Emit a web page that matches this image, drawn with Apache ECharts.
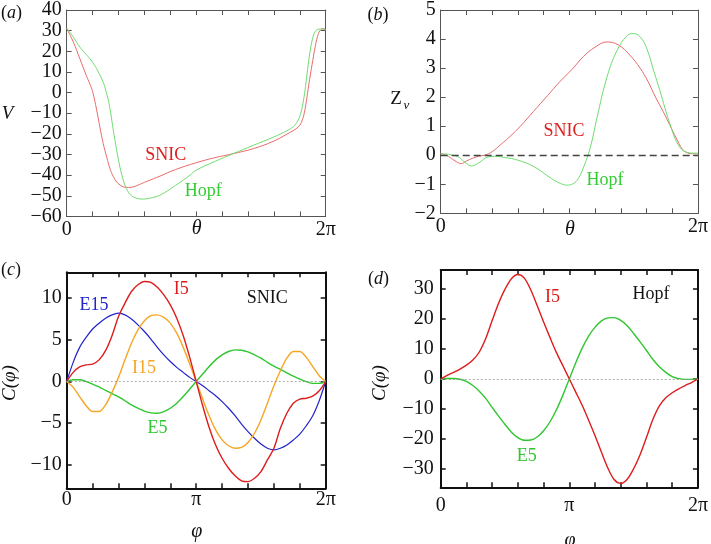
<!DOCTYPE html>
<html>
<head>
<meta charset="utf-8">
<script src="https://cdn.jsdelivr.net/npm/echarts@6/dist/echarts.min.js"></script>
<style>html,body{margin:0;padding:0;background:#fff}#c{width:711px;height:544px}</style>
</head>
<body>
<div id="c"></div>
<script>
// ---------- data (x = phase / 2π) ----------
const aSnicX = [0, 0.026, 0.051, 0.075, 0.09, 0.1, 0.115, 0.128, 0.141, 0.155, 0.167, 0.18, 0.193, 0.206, 0.219, 0.232, 0.244, 0.26, 0.28, 0.31, 0.36, 0.42, 0.5, 0.57, 0.643, 0.72, 0.8, 0.862, 0.885, 0.9, 0.91, 0.918, 0.925, 0.932, 0.94, 0.95, 0.959, 0.968, 0.978, 0.99, 1];
const aSnicV = [31, 24.4, 16.3, 8.5, 4, 0.5, -8, -16.7, -24.7, -31.5, -36.8, -40.7, -43.3, -44.8, -45.7, -45.9, -46, -45.6, -44.6, -43, -40.5, -37.3, -34, -31.6, -29.6, -27.2, -23.5, -19.3, -17.6, -15.8, -13.2, -9.5, -4.5, 1.5, 8, 15.5, 21.9, 27, 30, 31, 30.5];
const aHopfX = [0, 0.026, 0.051, 0.075, 0.1, 0.12, 0.141, 0.151, 0.161, 0.17, 0.18, 0.19, 0.2, 0.212, 0.225, 0.238, 0.25, 0.27, 0.29, 0.32, 0.36, 0.42, 0.476, 0.5, 0.57, 0.643, 0.72, 0.8, 0.85, 0.875, 0.893, 0.905, 0.914, 0.922, 0.93, 0.939, 0.948, 0.958, 0.97, 0.985, 1];
const aHopfV = [31.3, 26.8, 22, 18.5, 14.7, 10.5, 5, 1, -3.8, -10, -18.3, -25.8, -32.8, -39.5, -44.9, -48.2, -50, -51.2, -51.6, -51.2, -49.7, -45, -40, -37.6, -33.5, -29.6, -25.6, -21.5, -18.5, -16.5, -13.5, -9.5, -4, 3, 11, 19.5, 25.5, 29.3, 30.6, 30.8, 30.3];

const bSnicX = [0, 0.03, 0.06, 0.08, 0.1, 0.125, 0.15, 0.171, 0.2, 0.235, 0.27, 0.31, 0.36, 0.415, 0.465, 0.51, 0.555, 0.6, 0.646, 0.69, 0.735, 0.775, 0.805, 0.835, 0.865, 0.89, 0.915, 0.94, 0.96, 0.98, 1];
const bSnicZ = [0.06, -0.04, -0.22, -0.29, -0.2, -0.1, -0.03, 0, 0.12, 0.38, 0.65, 1.0, 1.5, 2.05, 2.55, 2.95, 3.4, 3.72, 3.9, 3.8, 3.45, 3.0, 2.55, 2.0, 1.5, 1.05, 0.6, 0.2, 0.08, 0.05, 0.05];
const bHopfX = [0, 0.03, 0.068, 0.095, 0.12, 0.15, 0.184, 0.21, 0.25, 0.3, 0.364, 0.43, 0.465, 0.49, 0.515, 0.535, 0.556, 0.582, 0.608, 0.646, 0.685, 0.724, 0.749, 0.775, 0.8, 0.83, 0.852, 0.891, 0.929, 0.968, 1];
const bHopfZ = [0.05, 0.03, -0.06, -0.25, -0.37, -0.25, -0.06, -0.04, -0.08, -0.17, -0.4, -0.8, -0.97, -1.03, -0.98, -0.8, -0.4, 0.28, 1.31, 2.68, 3.6, 4.11, 4.19, 4.08, 3.7, 2.85, 2.23, 1.08, 0.28, 0.08, 0.07];

const cdX = [0, 0.025, 0.05, 0.075, 0.1, 0.125, 0.15, 0.175, 0.2, 0.225, 0.25, 0.275, 0.3, 0.325, 0.35, 0.375, 0.4, 0.425, 0.45, 0.475, 0.5,
             0.525, 0.55, 0.575, 0.6, 0.625, 0.65, 0.675, 0.7, 0.725, 0.75, 0.775, 0.8, 0.825, 0.85, 0.875, 0.9, 0.925, 0.95, 0.975, 1];
const cI5  = [0, 1.1, 1.75, 2.0, 2.1, 2.6, 3.7, 5.5, 7.8, 9.4, 10.8, 11.6, 12.0, 11.9, 11.3, 10.4, 9.2, 7.6, 5.5, 2.9, 0,
              -2.9, -5.5, -7.6, -9.2, -10.4, -11.3, -11.9, -12.0, -11.6, -10.8, -9.4, -8.0, -5.6, -3.8, -2.6, -2.1, -2.0, -1.75, -1.1, 0];
const cE15 = [0, 2.3, 4.1, 5.3, 6.3, 7.0, 7.6, 8.0, 8.2, 8.0, 7.5, 6.8, 6.0, 5.1, 4.1, 3.2, 2.4, 1.7, 1.1, 0.5, 0,
              -0.5, -1.1, -1.7, -2.4, -3.2, -4.1, -5.1, -6.0, -6.8, -7.5, -8.0, -8.2, -8.0, -7.6, -7.0, -6.3, -5.3, -4.1, -2.3, 0];
const cI15 = [0, -0.7, -1.8, -2.9, -3.6, -3.6, -2.8, -1.3, 0.5, 2.6, 4.6, 6.2, 7.3, 7.9, 8.0, 7.7, 7.0, 5.8, 4.1, 2.1, 0,
              -2.1, -4.1, -5.8, -7.0, -7.7, -8.0, -7.9, -7.3, -6.2, -4.6, -2.6, -0.5, 1.3, 2.8, 3.6, 3.6, 2.9, 1.8, 0.7, 0];
const cE5  = [0, 0.22, 0.22, 0.0, -0.3, -0.65, -1.05, -1.45, -1.85, -2.3, -2.8, -3.2, -3.55, -3.75, -3.8, -3.6, -3.2, -2.6, -1.8, -0.9, 0,
              0.9, 1.8, 2.6, 3.2, 3.6, 3.8, 3.75, 3.55, 3.2, 2.8, 2.3, 1.85, 1.45, 1.05, 0.65, 0.3, 0.0, -0.22, -0.22, 0];
const dI5  = [0, 1.2, 2.2, 3.3, 4.6, 6.3, 9.0, 13.5, 19.5, 25.3, 30.0, 33.5, 34.9, 33.7, 29.8, 24.5, 19.0, 13.8, 8.8, 4.4, 0,
              -4.4, -8.8, -13.8, -19.0, -24.5, -29.8, -33.7, -34.9, -33.5, -30.0, -25.3, -19.5, -13.5, -9.0, -6.3, -4.6, -3.3, -2.2, -1.2, 0];
const dE5  = [0, 0.15, 0.15, -0.1, -0.8, -2.2, -4.1, -6.5, -9.5, -12.4, -15.2, -17.8, -19.6, -20.5, -20.4, -19.4, -17.3, -14.3, -10.3, -5.4, 0,
              5.4, 10.3, 14.3, 17.3, 19.4, 20.4, 20.5, 19.6, 17.8, 15.2, 12.4, 9.5, 6.5, 4.1, 2.2, 0.8, 0.1, -0.15, -0.15, 0];

const xTickLabelsAB = ['0', '', '', '', '', '', '', '', '', '', '2π'];
const xTickLabelsCD = ['0', '', '', '', '', 'π', '', '', '', '', '2π'];
const yTicksC = [-10, -5, 0, 5, 10];
const yTicksD = [-30, -20, -10, 0, 10, 20, 30];

// ---------- helpers ----------
const FONT = '"Liberation Serif", "DejaVu Serif", serif';
const TICK_FS = 20;
const zip = (xs, ys) => xs.map((x, i) => [x, ys[i]]);
const minus = v => String(v).replace('-', '\u2212');

const thin = { color: '#555', width: 1 };
const thick = { color: '#111', width: 2 };

function xAxes(gi, labels, st, margin) {
  const base = {
    gridIndex: gi, type: 'value', min: 0, max: 1, interval: 0.1,
    splitLine: { show: false },
    axisLine: { show: true, onZero: false, lineStyle: st },
    axisTick: { show: true, inside: true, length: 5, lineStyle: { color: st.color, width: st.width > 1 ? 1.5 : 1 } }
  };
  return [
    Object.assign({}, base, { position: 'bottom',
      axisLabel: { show: true, margin: margin, color: '#111', fontFamily: FONT, fontSize: TICK_FS,
        showMinLabel: true, showMaxLabel: true,
        formatter: v => labels[Math.round(v * 10)] || '' } }),
    Object.assign({}, base, { position: 'top', axisLabel: { show: false } })
  ];
}
function yAxes(gi, opts, st, margin) {
  const base = Object.assign({
    gridIndex: gi, type: 'value',
    splitLine: { show: false },
    axisLine: { show: true, onZero: false, lineStyle: st },
    axisTick: { show: true, inside: true, length: 5, lineStyle: { color: st.color, width: st.width > 1 ? 1.5 : 1 } }
  }, opts);
  if (opts.custom) {
    base.axisTick.customValues = opts.custom;
  }
  const left = Object.assign({}, base, { position: 'left',
    axisLabel: { show: true, margin: margin, color: '#111', fontFamily: FONT, fontSize: TICK_FS,
      showMinLabel: true, showMaxLabel: true, formatter: v => minus(v) } });
  if (opts.custom) left.axisLabel.customValues = opts.custom;
  const right = Object.assign({}, base, { position: 'right', axisLabel: { show: false } });
  delete left.custom; delete right.custom;
  return [left, right];
}
function line(gi, data, color, width, smooth) {
  return { type: 'line', xAxisIndex: 2 * gi, yAxisIndex: 2 * gi, data: data,
    showSymbol: false, symbol: 'none', smooth: smooth == null ? 0.3 : smooth, silent: true,
    lineStyle: { color: color, width: width } };
}
function txt(x, y, text, color, size, extra) {
  return Object.assign({ type: 'text', x: x, y: y, silent: true,
    style: { text: text, fill: color, font: (size || 18) + 'px ' + FONT, textAlign: 'center', textVerticalAlign: 'middle' } }, extra || {});
}
function itxt(x, y, text, color, size, extra) {
  const t = txt(x, y, text, color, size, extra);
  t.style.font = 'italic ' + (size || 18) + 'px ' + FONT;
  return t;
}
function panelLabel(x, y, letter) {
  return { type: 'text', x: x, y: y, silent: true,
    style: { text: '{n|(}{i|' + letter + '}{n|)}', textAlign: 'center', textVerticalAlign: 'middle',
      rich: { n: { font: '18px ' + FONT, fill: '#111' }, i: { font: 'italic 18px ' + FONT, fill: '#111' } } } };
}

const redL = '#e86b6b', greenL = '#6fdc6f';
const red = '#dd1c1c', blue = '#2323cc', orange = '#f5a623', green = '#2fc62f';
const redT = '#dd2020', greenT = '#33cc33';

const zeroDot = { symbol: 'none', silent: true, label: { show: false },
  lineStyle: { color: '#999', width: 0.8, type: [2, 2] }, data: [{ yAxis: 0 }] };
const zeroDash = { symbol: 'none', silent: true, label: { show: false },
  lineStyle: { color: '#444', width: 1.3, type: [7, 4] }, data: [{ yAxis: 0 }] };

const series = [
  line(0, zip(aSnicX, aSnicV), redL, 1, 0.4),
  line(0, zip(aHopfX, aHopfV), greenL, 1, 0.4),
  line(1, zip(bSnicX, bSnicZ), redL, 1, 0.4),
  Object.assign(line(1, zip(bHopfX, bHopfZ), greenL, 1, 0.4), { markLine: zeroDash }),
  Object.assign(line(2, zip(cdX, cE5), green, 1.4), { markLine: zeroDot }),
  line(2, zip(cdX, cE15), blue, 1.2),
  line(2, zip(cdX, cI15), orange, 1.4),
  line(2, zip(cdX, cI5), red, 1.4),
  Object.assign(line(3, zip(cdX, dE5), green, 1.4), { markLine: zeroDot }),
  line(3, zip(cdX, dI5), red, 1.4)
];

const option = {
  animation: false,
  backgroundColor: '#fff',
  grid: [
    { left: 66.7, top: 9.3, width: 259, height: 207.1 },
    { left: 440.7, top: 9, width: 259.3, height: 204.3 },
    { left: 66.7, top: 272.3, width: 259, height: 216 },
    { left: 440.7, top: 270, width: 258.6, height: 217.3 }
  ],
  xAxis: [].concat(
    xAxes(0, xTickLabelsAB, thin, 3),
    xAxes(1, xTickLabelsAB, thin, 3),
    xAxes(2, xTickLabelsCD, thick, 1),
    xAxes(3, xTickLabelsCD, thick, 8)
  ),
  yAxis: [].concat(
    yAxes(0, { min: -60, max: 40, interval: 10 }, thin, 5),
    yAxes(1, { min: -2, max: 5, interval: 1 }, thin, 5),
    yAxes(2, { min: -12.8, max: 13.1, custom: yTicksC }, thick, 5),
    yAxes(3, { min: -36.2, max: 36.4, custom: yTicksD }, thick, 7)
  ),
  series: series,
  graphic: [
    panelLabel(11.5, 13.5, 'a'),
    panelLabel(378, 15, 'b'),
    panelLabel(11, 270, 'c'),
    panelLabel(378.5, 279, 'd'),
    itxt(7.5, 114, 'V', '#111', 19),
    txt(396, 99, 'Z', '#111', 19),
    itxt(406.5, 106, 'v', '#111', 13),
    itxt(196.7, 229, 'θ', '#111', 20),
    itxt(570, 230, 'θ', '#111', 20),
    itxt(10, 383, 'C(φ)', '#111', 19, { rotation: Math.PI / 2 }),
    itxt(380, 383, 'C(φ)', '#111', 19, { rotation: Math.PI / 2 }),
    itxt(196.7, 532, 'φ', '#111', 20),
    itxt(570, 541, 'φ', '#111', 20),
    txt(165.8, 155.5, 'SNIC', redT, 18),
    txt(203.3, 190.8, 'Hopf', greenT, 18),
    txt(564, 131.7, 'SNIC', redT, 18),
    txt(605, 180.7, 'Hopf', greenT, 18),
    txt(94, 305, 'E15', blue, 18),
    txt(181.3, 289, 'I5', red, 18),
    txt(267.3, 298, 'SNIC', '#111', 18),
    txt(144, 368.3, 'I15', orange, 18),
    txt(157.5, 428.3, 'E5', green, 18),
    txt(552.5, 297.5, 'I5', red, 18),
    txt(651, 294, 'Hopf', '#111', 18),
    txt(526.7, 455.8, 'E5', green, 18)
  ]
};

const chart = echarts.init(document.getElementById('c'), null, { renderer: 'canvas' });
chart.setOption(option);
</script>
</body>
</html>
